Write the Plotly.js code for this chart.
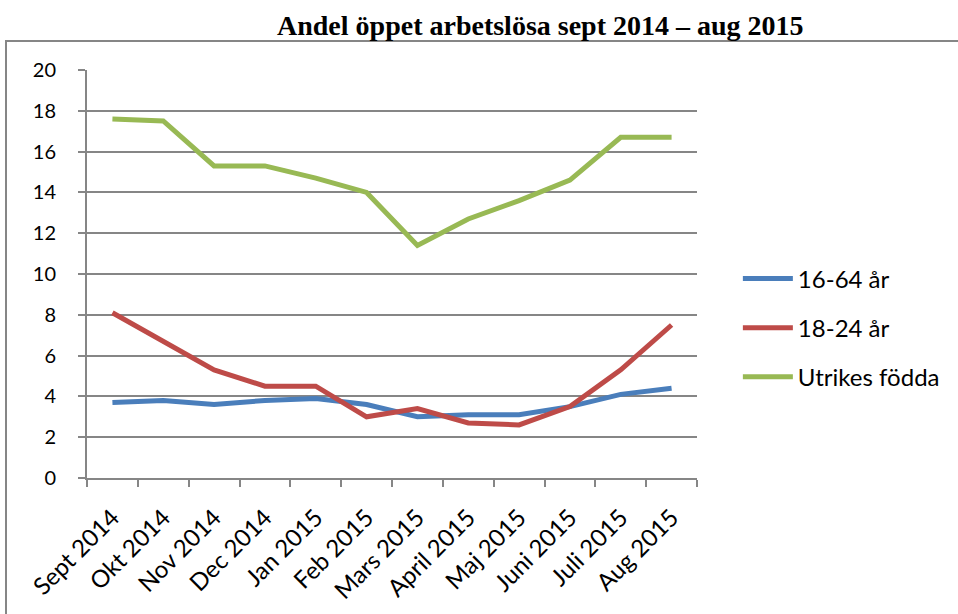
<!DOCTYPE html>
<html>
<head>
<meta charset="utf-8">
<script src="https://cdn.plot.ly/plotly-3.0.1.min.js"></script>
<style>html,body{margin:0;padding:0;background:#fff;}#chart{width:958px;height:614px;}</style>
</head>
<body>
<div id="chart"></div>
<script>
const months = ["Sept 2014","Okt 2014","Nov 2014","Dec 2014","Jan 2015","Feb 2015","Mars 2015","April 2015","Maj 2015","Juni 2015","Juli 2015","Aug 2015"];
const seriesNames = ["16-64 år","18-24 år","Utrikes födda"];
const ages16_64 = [3.7,3.8,3.6,3.8,3.9,3.6,3.0,3.1,3.1,3.5,4.1,4.4];
const ages18_24 = [8.1,6.7,5.3,4.5,4.5,3.0,3.4,2.7,2.6,3.5,5.3,7.5];
const foreignBorn = [17.6,17.5,15.3,15.3,14.7,14.0,11.4,12.7,13.6,14.6,16.7,16.7];
const colors = ["#4a7ebb","#be4b48","#98b954"];

const values = [ages16_64, ages18_24, foreignBorn];
const traces = values.map((v,i)=>({
  x: months, y: v, name: seriesNames[i], type:'scatter', mode:'lines',
  line:{color:colors[i], width:5}, legendgroup:'g'+i
}));

const fam = "Lato, 'Open Sans', sans-serif";
const layout = {
  width:958, height:614,
  margin:{l:87, r:261, t:70, b:136},
  paper_bgcolor:'#fff', plot_bgcolor:'#fff',
  font:{family:fam, size:20, color:'#000'},
  title:{text:"<b>Andel öppet arbetslösa sept 2014 – aug 2015</b>",
    font:{family:"'Liberation Serif', 'DejaVu Serif', serif", size:28, color:'#000'},
    x:0.564, xref:'container', xanchor:'center', y:1-25/614, yref:'container', yanchor:'middle'},
  xaxis:{type:'category', range:[-0.5,11.5], tickangle:-45, ticks:'outside', tickson:'boundaries',
    ticklen:7, tickcolor:'#868686', tickwidth:2, showline:true, linecolor:'#868686', linewidth:2,
    showgrid:false, tickfont:{family:fam, size:24, color:'#000'}, ticklabelstandoff:14, fixedrange:true},
  yaxis:{range:[0,20], dtick:2, ticks:'outside', ticklen:7, tickcolor:'#868686', tickwidth:2,
    showline:true, linecolor:'#868686', linewidth:2, gridcolor:'#868686', gridwidth:2,
    zeroline:false, tickfont:{family:fam, size:20, color:'#000'}, ticklabelstandoff:18, fixedrange:true},
  legend:{x:1.067, xanchor:'left', y:0.368, yanchor:'middle', traceorder:'grouped', tracegroupgap:15,
    itemwidth:50, font:{family:fam, size:24, color:'#000'}, bgcolor:'rgba(0,0,0,0)'},
  shapes:[{type:'rect', xref:'paper', yref:'paper', x0:(6-87)/610, x1:1.6, y0:-0.6, y1:(478-41)/408,
    line:{color:'#868686', width:2}, fillcolor:'rgba(0,0,0,0)', layer:'below'}],
  showlegend:true
};
Plotly.newPlot('chart', traces, layout, {displayModeBar:false, staticPlot:true});
</script>
</body>
</html>
